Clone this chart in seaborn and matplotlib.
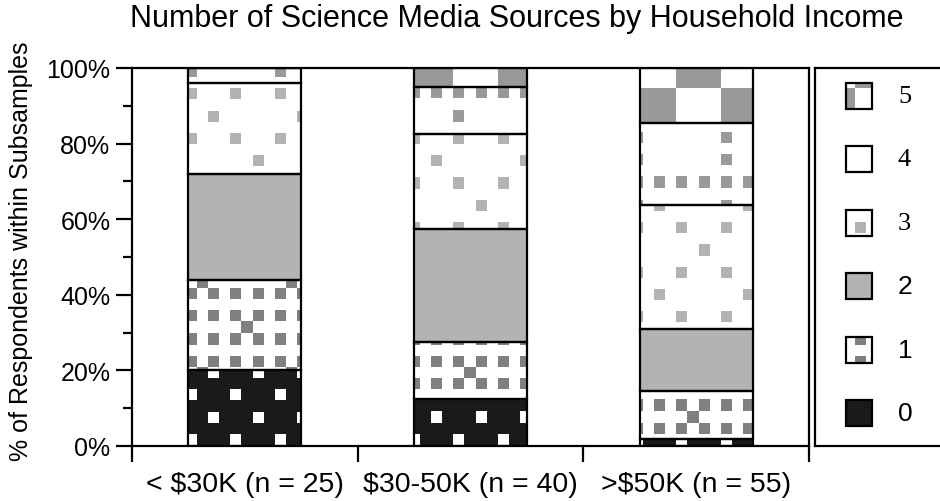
import numpy as np
import matplotlib.pyplot as plt
import seaborn as sns
from matplotlib.patches import Rectangle
from matplotlib.colors import to_rgba

# Income groups (x axis)
groups = ["< $30K (n = 25)", "$30-50K (n = 40)", ">$50K (n = 55)"]
group_n = [25, 40, 55]

# Respondents per number of science media sources, in each income group
sources_0 = [5, 5, 1]
sources_1 = [6, 6, 7]
sources_2 = [7, 12, 9]
sources_3 = [6, 10, 18]
sources_4 = [1, 5, 12]
sources_5 = [0, 2, 8]
counts = [sources_0, sources_1, sources_2, sources_3, sources_4, sources_5]
level_names = ["0", "1", "2", "3", "4", "5"]

yticks = [0, 20, 40, 60, 80, 100]
ytick_labels = ["0%", "20%", "40%", "60%", "80%", "100%"]

# fill colour of each level and colour of its square pattern
face_colors = ["#1a1a1a", "white", "#b3b3b3", "white", "white", "white"]
dot_colors = ["white", "#808080", None, "#b3b3b3", "#999999", "#999999"]

CELL = 11.15


def pattern_mask(level, X, Y):
    # square patterns on a pixel grid shared by the whole picture
    cx = np.floor((X - 208) / CELL).astype(int)
    cy = np.floor((Y - 290) / CELL).astype(int)
    ev = (cx % 2 == 0) & (cy % 2 == 0)
    if level == 0:
        return (cy % 2 == 1) & (((cy % 4 == 1) & (cx % 4 == 2)) |
                                ((cy % 4 == 3) & (cx % 4 == 0)))
    if level == 1:
        extra = (cx % 4 == 3) & (cy % 4 == 3) & \
            (((cx - 3) // 4 + (cy - 3) // 4) % 2 == 0)
        return ev | extra
    if level == 3:
        return ev & (((cy % 4 == 2) & (cx % 4 == 2)) |
                     ((cy % 8 == 0) & (cx % 8 == 0)) |
                     ((cy % 8 == 4) & (cx % 8 == 4)))
    if level == 4:
        return ev & ((cy % 8 == 6) | (cx % 8 == 6))
    if level == 5:
        bx = (cx - 2) // 4
        by = (cy - 2) // 4
        return (bx + by) % 2 == 0
    return np.zeros_like(X, dtype=bool)


def add_texture(target_ax, level, clip_patches):
    color = dot_colors[level]
    if color is None:
        return
    W, H = fig.get_size_inches() * fig.dpi
    pos = target_ax.get_position()
    x0 = pos.x0 * W
    ytop = (1 - pos.y1) * H
    nx = int(round(pos.width * W))
    ny = int(round(pos.height * H))
    X, Y = np.meshgrid(x0 + np.arange(nx) + 0.5, ytop + np.arange(ny) + 0.5)
    rgba = np.zeros((ny, nx, 4))
    rgba[pattern_mask(level, X, Y)] = to_rgba(color)
    xl = target_ax.get_xlim()
    yl = target_ax.get_ylim()
    for p in clip_patches:
        im = target_ax.imshow(rgba, extent=(xl[0], xl[1], yl[0], yl[1]),
                              origin="upper", aspect="auto",
                              interpolation="nearest", zorder=1.5)
        im.set_clip_path(p)
    target_ax.set_xlim(xl)
    target_ax.set_ylim(yl)


sns.set_style("ticks")
plt.rcParams["font.family"] = ["Liberation Sans", "DejaVu Sans"]

fig = plt.figure(figsize=(9.4, 5.02), dpi=100)
ax = fig.add_axes([132 / 940, 55 / 502, 677 / 940, 378 / 502])

# Stacked bars
bottom = np.zeros(len(groups))
level_patches = []
for level, c in enumerate(counts):
    pct = np.array(c) / np.array(group_n) * 100
    sns.barplot(x=groups, y=pct, bottom=bottom, color=face_colors[level],
                saturation=1, width=0.5, linewidth=0, errorbar=None, ax=ax)
    level_patches.append(list(ax.containers[-1].patches))
    bottom = bottom + pct

ax.set_xlim(-0.5, 2.5)
ax.set_ylim(0, 100)

for level, patches in enumerate(level_patches):
    add_texture(ax, level, patches)
    for p in patches:
        ax.add_patch(Rectangle(p.get_xy(), p.get_width(), p.get_height(),
                               fill=False, edgecolor="black", linewidth=1.6,
                               zorder=2))

# Axes styling
for side in ["left", "right", "top", "bottom"]:
    ax.spines[side].set_visible(True)
    ax.spines[side].set_color("black")
    ax.spines[side].set_linewidth(1.6)

ax.set_xticks([-0.5, 0.5, 1.5, 2.5])
ax.set_xticklabels([])
ax.set_xticks([0, 1, 2], labels=groups, minor=True)
ax.tick_params(axis="x", which="major", length=11.5, width=1.6,
               direction="out", color="black")
ax.tick_params(axis="x", which="minor", length=0, pad=18, labelsize=20.5,
               labelcolor="black")

ax.set_yticks(yticks, labels=ytick_labels)
ax.set_yticks([10, 30, 50, 70, 90], minor=True)
ax.tick_params(axis="y", which="major", length=11.5, width=1.6,
               direction="out", pad=4, labelsize=18, color="black",
               labelcolor="black")
ax.tick_params(axis="y", which="minor", length=6.5, width=1.6,
               direction="out", color="black")
ax.set_xlabel("")
ax.set_ylabel("")

fig.text(21 / 940, 1 - 251 / 502, "% of Respondents within Subsamples",
         rotation=90, ha="center", va="center", fontsize=18, color="black")
fig.text(517 / 940, 1 - 19 / 502,
         "Number of Science Media Sources by Household Income",
         ha="center", va="center", fontsize=22, color="black")

# Legend box
lax = fig.add_axes([815 / 940, 55 / 502, 130 / 940, 378 / 502])
lax.set_xlim(0, 130)
lax.set_ylim(378, 0)
lax.set_xticks([])
lax.set_yticks([])
for side in ["left", "top", "bottom"]:
    lax.spines[side].set_color("black")
    lax.spines[side].set_linewidth(1.6)
lax.spines["right"].set_visible(False)

rows = np.linspace(28, 345, len(level_names))
for i, level in enumerate(range(5, -1, -1)):
    yc = rows[i]
    sw = Rectangle((31, yc - 13), 26, 26, facecolor=face_colors[level],
                   edgecolor="none", zorder=1)
    lax.add_patch(sw)
    add_texture(lax, level, [sw])
    lax.add_patch(Rectangle((31, yc - 13), 26, 26, fill=False,
                            edgecolor="black", linewidth=1.6, zorder=2))
    family = ["Liberation Serif"] if level >= 3 else ["Liberation Sans"]
    lax.text(83, yc, level_names[level], ha="left", va="center",
             fontsize=19, family=family, color="black")

fig.savefig("out.png", dpi=100)
